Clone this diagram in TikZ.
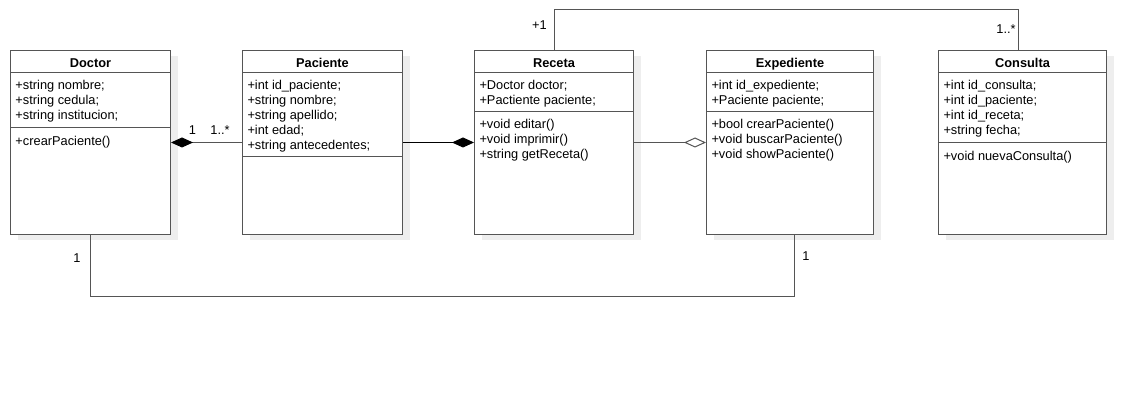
\documentclass[tikz,border=0pt]{standalone}
\usepackage{fontspec}
\setmainfont{Liberation Sans}
\usetikzlibrary{arrows.meta}
\usetikzlibrary{shadows}
\usetikzlibrary{positioning}
\definecolor{umlline}{RGB}{85,85,85}
\definecolor{umlshadow}{RGB}{238,238,238}

\begin{document}
\begin{tikzpicture}[x=1pt,y=-1pt,line width=1pt,
    classbox/.style={rectangle,draw=umlline,fill=white,anchor=north west,inner sep=0pt,minimum height=184pt,
      drop shadow={shadow xshift=7pt,shadow yshift=-6pt,fill=umlshadow,opacity=1}},
    classname/.style={anchor=base,inner sep=0pt,font=\fontsize{12.8}{15}\selectfont\bfseries},
    member/.style={anchor=north west,inner sep=0pt,align=left,font=\fontsize{12.8}{15}\selectfont,execute at begin node=\strut},
    mult/.style={inner sep=0pt,font=\fontsize{12.8}{15}\selectfont},
    part/.style={draw=umlline},
    assoc/.style={draw=umlline}]
    \useasboundingbox (0,0) rectangle (1146,419);
    \begin{scope}
      % class boxes
      \node[classbox,minimum width=160pt] (doctor) at (10,50) {};
      \node[classbox,minimum width=160pt] (paciente) at (242,50) {};
      \node[classbox,minimum width=159pt] (receta) at (474,50) {};
      \node[classbox,minimum width=167pt] (expediente) at (706,50) {};
      \node[classbox,minimum width=168pt] (consulta) at (938,50) {};
      % compartments
      \path[part] (doctor.west |- 0,73) edge (doctor.east |- 0,73);
      \path[part] (doctor.west |- 0,128) edge (doctor.east |- 0,128);
      \path[part] (paciente.west |- 0,73) edge (paciente.east |- 0,73);
      \path[part] (paciente.west |- 0,157) edge (paciente.east |- 0,157);
      \path[part] (receta.west |- 0,73) edge (receta.east |- 0,73);
      \path[part] (receta.west |- 0,112) edge (receta.east |- 0,112);
      \path[part] (expediente.west |- 0,73) edge (expediente.east |- 0,73);
      \path[part] (expediente.west |- 0,112) edge (expediente.east |- 0,112);
      \path[part] (consulta.west |- 0,73) edge (consulta.east |- 0,73);
      \path[part] (consulta.west |- 0,143) edge (consulta.east |- 0,143);
      % names
      \node[classname] (doctor name) at ([yshift=-18pt]doctor.north) {Doctor};
      \node[classname] (paciente name) at ([yshift=-18pt]paciente.north) {Paciente};
      \node[classname] (receta name) at ([yshift=-18pt]receta.north) {Receta};
      \node[classname] (expediente name) at ([yshift=-18pt]expediente.north) {Expediente};
      \node[classname] (consulta name) at ([yshift=-18pt]consulta.north) {Consulta};
      % attributes and methods
      \node[member] (doctor attr) at (15,80) {+string nombre;\\+string cedula;\\+string institucion;};
      \node[member] (doctor ops) at (15,134.5) {+crearPaciente()};
      \node[member] (paciente attr) at (247,80) {+int id\_paciente;\\+string nombre;\\+string apellido;\\+int edad;\\+string antecedentes;};
      \node[member] (receta attr) at (479,80) {+Doctor doctor;\\+Pactiente paciente;};
      \node[member] (receta ops) at (479,118.5) {+void editar()\\+void imprimir()\\+string getReceta()};
      \node[member] (expediente attr) at (711,80) {+int id\_expediente;\\+Paciente paciente;};
      \node[member] (expediente ops) at (711,118.5) {+bool crearPaciente()\\+void buscarPaciente()\\+void showPaciente()};
      \node[member] (consulta attr) at (943,80) {+int id\_consulta;\\+int id\_paciente;\\+int id\_receta;\\+string fecha;};
      \node[member] (consulta ops) at (943,149.5) {+void nuevaConsulta()};
      % relations
      \draw[assoc,{Diamond[length=22pt,width=10pt,color=black]}-] (doctor.east) -- (paciente.west);
      \draw[assoc,draw=black,-{Diamond[length=22pt,width=10pt]}] (paciente.east) -- (receta.west);
      \draw[assoc,-{Diamond[open,length=22pt,width=10pt,fill=white]}] (receta.east) -- (expediente.west);
      \draw[assoc] (receta.north) -- (receta.north |- 0,10) -| ([xshift=-4pt]consulta.north);
      \draw[assoc] (doctor.south) -- (doctor.south |- 0,297) -| ([xshift=4.5pt]expediente.south);
      % multiplicities
      \node[mult] (m doctor) at (192.5,130.5) {1};
      \node[mult] (m paciente) at (220,130.5) {1..*};
      \node[mult] (m receta) at (539.5,25) {+1};
      \node[mult] (m consulta) at (1006,29) {1..*};
      \node[mult] (m doctor low) at (77,258) {1};
      \node[mult] (m expediente) at (806,256) {1};
    \end{scope}
\end{tikzpicture}
\end{document}
